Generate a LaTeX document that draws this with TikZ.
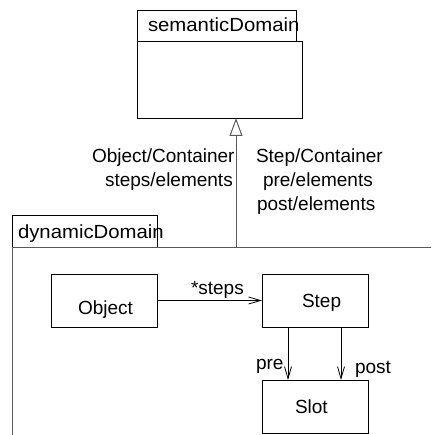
\documentclass[tikz,border=0pt]{standalone}
\usepackage{fontspec}
\setmainfont{Liberation Sans}
\newfontfamily\pkgfont[FakeStretch=1.07]{Liberation Sans}
\usetikzlibrary{arrows.meta}
\begin{document}
\begin{tikzpicture}[x=1pt,y=-1pt,
  every node/.style={inner sep=0pt, outer sep=0pt},
  txt/.style={font=\fontsize{19}{24}\selectfont, anchor=base west},
  pkgtxt/.style={font=\pkgfont\fontsize{19}{24}\selectfont, anchor=base west},
  box/.style={draw=black, line width=0.9pt},
  frame/.style={draw=black!65, line width=1pt},
  barb/.style={draw=black, line width=0.8pt, -{Straight Barb[length=12pt,width=7pt]}},
  gen/.style={draw=black!65, line width=1pt, -{Triangle[open,length=18pt,width=13pt]}}]
\useasboundingbox (0,0) rectangle (431,435);
\clip (0,0) rectangle (431,435);

% semanticDomain package
\node[box, minimum width=159pt, minimum height=31pt, anchor=north west] (semtab) at (137,10) {};
\node[box, minimum width=165pt, minimum height=77pt, anchor=north west] (semantic) at (137,41) {};
\node[pkgtxt] (semname) at (148,32) {semanticDomain};

% dynamicDomain package (runs off the lower right edge)
\node[box, minimum width=145pt, minimum height=32pt, anchor=north west] (dyntab) at (12,215) {};
\coordinate (dyncorner) at (12,247);
\coordinate (dynright) at (440,247);
\coordinate (dynbottom) at (12,440);
\draw[frame] (dynright) -- (dyncorner) -- (dynbottom);
\node[pkgtxt] (dynname) at (18,238) {dynamicDomain};

% generalisation from dynamicDomain to semanticDomain
\coordinate (genfoot) at (236,247);
\draw[gen] (genfoot) -- (genfoot |- semantic.south);

% mapping labels
\node[txt] (map1) at (92,163) {Object/Container};
\node[txt] (map2) at (105,187) {steps/elements};
\node[txt] (map3) at (256,163) {Step/Container};
\node[txt] (map4) at (263,187) {pre/elements};
\node[txt] (map5) at (257,211) {post/elements};

% classes
\node[box, minimum width=106pt, minimum height=53pt, anchor=north west] (object) at (51,274) {};
\node[txt] (objectname) at (78,314) {Object};
\node[box, minimum width=106pt, minimum height=53pt, anchor=north west] (step) at (262,274) {};
\node[txt] (stepname) at (302,307) {Step};
\node[box, minimum width=106pt, minimum height=53pt, anchor=north west] (slot) at (262,380) {};
\node[txt] (slotname) at (295,413) {Slot};

% associations
\draw[barb] (object.east) -- (step.west);
\node[txt] (stepslbl) at (191,294) {*steps};
\draw[barb] ([xshift=26pt]step.south west) -- ([xshift=26pt]slot.north west);
\node[txt] (prelbl) at (256,369) {pre};
\draw[barb] ([xshift=79pt]step.south west) -- ([xshift=79pt]slot.north west);
\node[txt] (postlbl) at (355,373) {post};
\end{tikzpicture}
\end{document}
